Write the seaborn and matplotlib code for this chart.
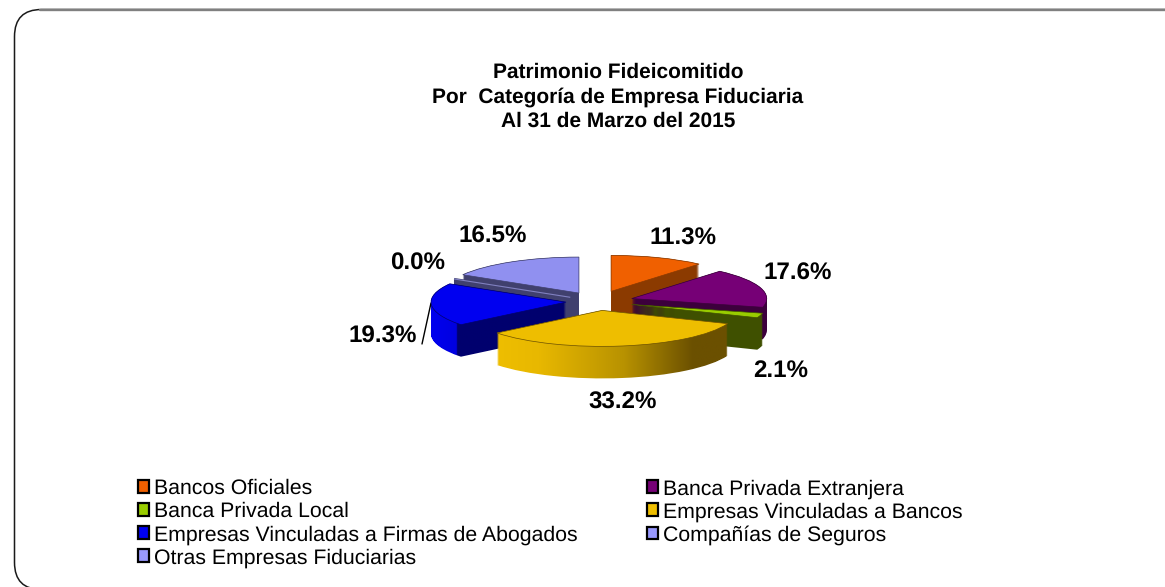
#!/usr/bin/env python3
import numpy as np
import matplotlib
matplotlib.use("Agg")
import matplotlib.pyplot as plt
from matplotlib.colors import LinearSegmentedColormap
from matplotlib.patches import FancyBboxPatch, PathPatch, Patch
from matplotlib.path import Path
import seaborn as sns

categories = [
    "Bancos Oficiales",
    "Banca Privada Extranjera",
    "Banca Privada Local",
    "Empresas Vinculadas a Bancos",
    "Empresas Vinculadas a Firmas de Abogados",
    "Compañías de Seguros",
    "Otras Empresas Fiduciarias",
]
shares = [11.3, 17.6, 2.1, 33.2, 19.3, 0.0, 16.5]
share_labels = ["11.3%", "17.6%", "2.1%", "33.2%", "19.3%", "0.0%", "16.5%"]
title_lines = [
    "Patrimonio Fideicomitido",
    "Por  Categoría de Empresa Fiduciaria",
    "Al 31 de Marzo del 2015",
]

top_colors = ["#F06000", "#760076", "#99CC00", "#EEBE00", "#0000F0", "#8080C0", "#9090F0"]
side_colors = ["#8B3A00", "#3C003C", "#3F5000", "#EEBE00", "#00006E", "#40406E", "#40406E"]
legend_colors = ["#F06000", "#760076", "#99CC00", "#EEBE00", "#0000F0", "#9999FF", "#9999FF"]
# back to front
draw_rank = [1, 2, 3, 6, 5, 4, 0]

W, H = 1165, 587
RX, RY = 135, 36      # pie radii in px
CX, CY = 597, 301.5   # pie centre in px
DEPTH = 32            # extrusion in px

sns.set_theme(style="white")
plt.rcParams["font.family"] = ["Liberation Sans", "DejaVu Sans"]
plt.rcParams["text.hinting"] = "no_hinting"

fig = plt.figure(figsize=(W / 100, H / 100), dpi=100)

# rounded frame, runs off the right and bottom of the picture
bg = fig.add_axes([0, 0, 1, 1])
bg.set_xlim(0, W)
bg.set_ylim(H, 0)
bg.axis("off")
bg.add_patch(FancyBboxPatch((14.5 + 27, 9.5 + 27), W + 60, 580 - 54,
                            boxstyle="round,pad=27,rounding_size=27",
                            fc="white", ec="#1A1A1A", lw=1.1))
bg.plot([40, W], [9.5, 9.5], color="#808080", lw=1.7)

# pie axes: one data unit is RX px across and RY px down
ax = fig.add_axes([(CX - 2 * RX) / W, 1 - (CY + 3 * RY) / H, 4 * RX / W, 6 * RY / H])
explode = [0.3, 0.27, 0.27, 0.25, 0.23, 0.23, 0.27]
pie_kw = dict(explode=explode, startangle=90, counterclock=False, radius=1)

side_parts = {3: [], 4: []}
for layer in range(DEPTH + 1):
    wedges, _ = ax.pie(shares, colors=side_colors, center=(0, -(DEPTH - layer) / RY),
                       wedgeprops=dict(lw=0), **pie_kw)
    for i, w in enumerate(wedges):
        w.set_zorder(10 + draw_rank[i] * 100 + layer)
    # the empty slice still shows as a thin slab
    wedges[5].set_edgecolor(side_colors[5])
    wedges[5].set_linewidth(1.5)
    for i in side_parts:
        side_parts[i].append(wedges[i].get_path())
        wedges[i].set_visible(False)

tops, _ = ax.pie(shares, colors=top_colors, center=(0, 0), wedgeprops=dict(lw=0.5), **pie_kw)
for i, w in enumerate(tops):
    w.set_edgecolor(side_colors[i] if i != 3 else "#6B5000")
    w.set_zorder(10 + draw_rank[i] * 100 + DEPTH + 1)
tops[5].set_edgecolor(top_colors[5])
tops[5].set_linewidth(0.8)

# sides that change colour from left to right
side_shades = {
    3: [(0, "#EEBE00"), (0.18, "#E8B800"), (0.55, "#B89200"), (0.85, "#6B5000"), (1, "#6B5000")],
    4: [(0, "#0000F0"), (0.2, "#0000E0"), (0.205, "#00006E"), (1, "#00006E")],
}
for i, stops in side_shades.items():
    body = Path.make_compound_path(*side_parts[i])
    x0, y0 = body.vertices.min(axis=0)
    x1, y1 = body.vertices.max(axis=0)
    img = ax.imshow(np.linspace(0, 1, 512).reshape(1, -1),
                    cmap=LinearSegmentedColormap.from_list(f"shade{i}", stops), aspect="auto",
                    extent=[x0, x1, y0, y1], zorder=10 + draw_rank[i] * 100, interpolation="bilinear")
    img.set_clip_path(PathPatch(body, transform=ax.transData))

ax.set_xlim(-2, 2)
ax.set_ylim(-3, 3)
ax.set_aspect("auto")
ax.axis("off")

# titles and value labels
for line, y in zip(title_lines, [72, 97, 121]):
    bg.text(618, y, line, ha="center", va="center", fontsize=15, fontweight="bold", color="black")

label_xy = [(683, 239), (798, 274), (781, 371), (623, 403), (383, 337), (418, 264), (493, 237)]
for txt, (x, y) in zip(share_labels, label_xy):
    bg.text(x, y, txt, ha="center", va="center", fontsize=17.4, fontweight="bold", color="black")
bg.plot([431, 422], [303, 344], color="black", lw=1)
bg.set_zorder(0)
ax.set_zorder(1)
ax.patch.set_visible(False)

# legend reads across in the reference, matplotlib fills by column
order = [0, 2, 4, 6, 1, 3, 5]
handles = [Patch(fc=legend_colors[i], ec="black", lw=1.6) for i in order]
fig.legend(handles, [categories[i] for i in order], ncol=2, loc="upper left",
           bbox_to_anchor=(138 / W, 1 - 479 / H),
           frameon=False, fontsize=15.3, handlelength=0.52, handleheight=0.52, handletextpad=0.25,
           labelspacing=0.16, columnspacing=3.25, borderpad=0, borderaxespad=0,
           labelcolor="black")

fig.savefig("out.png", dpi=100)
